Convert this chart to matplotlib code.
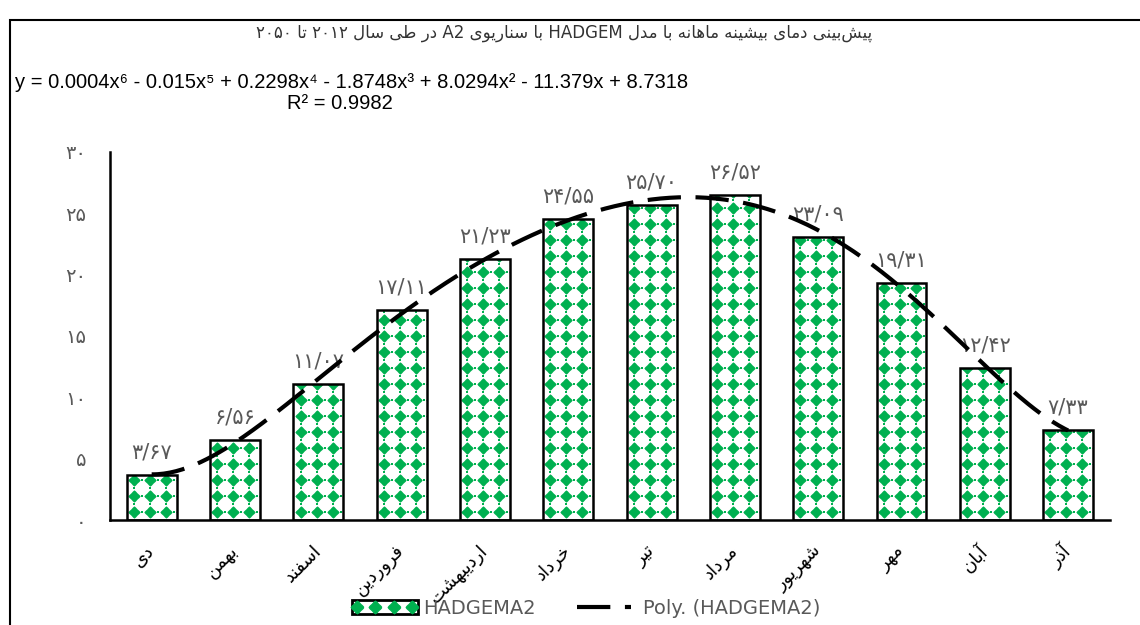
import numpy as np
import matplotlib.pyplot as plt
from matplotlib.path import Path
from matplotlib.patches import Rectangle
from matplotlib.lines import Line2D
from matplotlib.legend_handler import HandlerTuple

# data
months = ['دی', 'بهمن', 'اسفند', 'فروردین', 'اردیبهشت', 'خرداد',
          'تیر', 'مرداد', 'شهریور', 'مهر', 'آبان', 'آذر']
tmax = [3.67, 6.56, 11.07, 17.11, 21.23, 24.55, 25.70, 26.52, 23.09, 19.31, 12.42, 7.33]
yticks = [0, 5, 10, 15, 20, 25, 30]
series_name = 'HADGEMA2'
trend_name = 'Poly. (HADGEMA2)'
title = 'پیش‌بینی دمای بیشینه ماهانه با مدل HADGEM با سناریوی A2 در طی سال ۲۰۱۲ تا ۲۰۵۰'

GREEN = '#00B050'
GREY = '#595959'

# minimal arabic/persian shaping (isolated, final, initial, medial)
FORMS = {
    'ا': ('\uFE8D', '\uFE8E', None, None),
    'آ': ('\uFE81', '\uFE82', None, None),
    'ب': ('\uFE8F', '\uFE90', '\uFE91', '\uFE92'),
    'پ': ('\uFB56', '\uFB57', '\uFB58', '\uFB59'),
    'ت': ('\uFE95', '\uFE96', '\uFE97', '\uFE98'),
    'خ': ('\uFEA5', '\uFEA6', '\uFEA7', '\uFEA8'),
    'د': ('\uFEA9', '\uFEAA', None, None),
    'ذ': ('\uFEAB', '\uFEAC', None, None),
    'ر': ('\uFEAD', '\uFEAE', None, None),
    'س': ('\uFEB1', '\uFEB2', '\uFEB3', '\uFEB4'),
    'ش': ('\uFEB5', '\uFEB6', '\uFEB7', '\uFEB8'),
    'ط': ('\uFEC1', '\uFEC2', '\uFEC3', '\uFEC4'),
    'ف': ('\uFED1', '\uFED2', '\uFED3', '\uFED4'),
    'ل': ('\uFEDD', '\uFEDE', '\uFEDF', '\uFEE0'),
    'م': ('\uFEE1', '\uFEE2', '\uFEE3', '\uFEE4'),
    'ن': ('\uFEE5', '\uFEE6', '\uFEE7', '\uFEE8'),
    'ه': ('\uFEE9', '\uFEEA', '\uFEEB', '\uFEEC'),
    'و': ('\uFEED', '\uFEEE', None, None),
    'ی': ('\uFBFC', '\uFBFD', '\uFBFE', '\uFBFF'),
}


def shape(word):
    out = []
    for i, c in enumerate(word):
        if c == '\u200c':
            continue
        if c not in FORMS:
            out.append(c)
            continue
        prev = word[i - 1] if i > 0 else None
        nxt = word[i + 1] if i + 1 < len(word) else None
        jp = prev in FORMS and FORMS[prev][2] is not None
        jn = FORMS[c][2] is not None and nxt in FORMS
        iso, fin, ini, med = FORMS[c]
        out.append(med if jp and jn else fin if jp else ini if jn else iso)
    return ''.join(reversed(out))


def fa(text):
    toks = text.split(' ')
    vis = [shape(t) if any(ch in FORMS for ch in t) else t for t in toks]
    return ' '.join(reversed(vis))


def fa_num(s):
    return s.translate(str.maketrans('0123456789.', '۰۱۲۳۴۵۶۷۸۹/'))


plt.rcParams['font.family'] = ['DejaVu Sans']

fig = plt.figure(figsize=(11.4, 6.25), dpi=100)
ax = fig.add_axes([0.0965, 0.168, 0.877, 0.589])

x = np.arange(len(months))
bars = ax.bar(x, tmax, width=0.6, color='white', linewidth=0, zorder=2)
ax.bar(x, tmax, width=0.6, fill=False, edgecolor='black', linewidth=1.8, zorder=3)
ax.set_xlim(-0.5, len(months) - 0.5)
ax.set_ylim(0, 30)

# green rounded 4-point blobs as the bar fill pattern
th = np.linspace(0, 2 * np.pi, 33)
r = 1 - 0.28 * np.abs(np.sin(2 * th))
blob = Path(np.column_stack([r * np.cos(th), r * np.sin(th)]))
px_x = 0.877 * 1140 / len(months)
px_y = 0.589 * 625 / 30
dx, dy = 16 / px_x, 16 / px_y
for b, v in zip(bars, tmax):
    left = b.get_x()
    cols = left + dx * (0.45 + np.arange(int(b.get_width() / dx) + 1))
    rows = dy * (0.5 + np.arange(int(v / dy) + 2))
    gx, gy = np.meshgrid(cols, rows)
    sc = ax.scatter(gx.ravel(), gy.ravel(), s=78, marker=blob, color=GREEN,
                    linewidths=0, zorder=2.5)
    sc.set_clip_path(b)
    dots = ax.scatter(np.r_[gx.ravel() + dx / 2, gx.ravel()],
                      np.r_[gy.ravel(), gy.ravel() + dy / 2],
                      s=4, marker='s', color=GREEN, linewidths=0, zorder=2.5)
    dots.set_clip_path(b)

# 6th order polynomial trend (as Excel)
coef = np.polyfit(x + 1, tmax, 6)
xx = np.linspace(1, len(months), 300)
trend, = ax.plot(xx - 1, np.polyval(coef, xx), color='black', lw=3,
                 dashes=(8, 3.5), zorder=4)

for xi, v in zip(x, tmax):
    ax.annotate(fa_num(f'{v:.2f}'), (xi, v), xytext=(0, 9),
                textcoords='offset points', ha='center', va='bottom',
                color=GREY, fontsize=15)

for s in ['top', 'right']:
    ax.spines[s].set_visible(False)
for s in ['left', 'bottom']:
    ax.spines[s].set_linewidth(1.8)
ax.set_yticks(yticks)
ax.set_yticklabels([fa_num(str(t)) for t in yticks], color=GREY, fontsize=14)
ax.set_xticks(x)
ax.set_xticklabels([fa(m) for m in months], rotation=45, rotation_mode='anchor',
                   ha='right', va='center', fontsize=13)
ax.tick_params(axis='y', length=0, pad=17)
ax.tick_params(axis='x', length=0, pad=20)

fig.text(0.495, 0.948, fa(title), ha='center', va='center', fontsize=12,
         color='#333333')
eq_font = ['Liberation Sans', 'DejaVu Sans']
fig.text(0.013, 0.868, 'y = 0.0004x⁶ - 0.015x⁵ + 0.2298x⁴ - 1.8748x³ + 8.0294x² - 11.379x + 8.7318',
         ha='left', va='center', fontsize=14.5, family=eq_font)
fig.text(0.298, 0.835, 'R² = 0.9982', ha='center', va='center', fontsize=14.5,
         family=eq_font)

# outer chart frame
fig.patches.append(Rectangle((10 / 1140, -0.1), 1.2, 0.1 + 605 / 625,
                             transform=fig.transFigure, fill=False,
                             edgecolor='black', lw=1.5))

patch_h = (Rectangle((0, 0), 1, 1, facecolor='white', edgecolor='black', lw=2),
           Line2D([], [], ls='none', marker=blob, color=GREEN, markersize=9))
leg = fig.legend([patch_h, trend], [series_name, trend_name],
                 handler_map={tuple: HandlerTuple(ndivide=1, pad=0)},
                 loc='center', bbox_to_anchor=(0.514, 0.027), ncol=2,
                 frameon=False, fontsize=14, numpoints=4, handlelength=3.4,
                 handletextpad=0.3, columnspacing=1.8)
for t in leg.get_texts():
    t.set_color(GREY)

fig.savefig('out.png', dpi=100)
